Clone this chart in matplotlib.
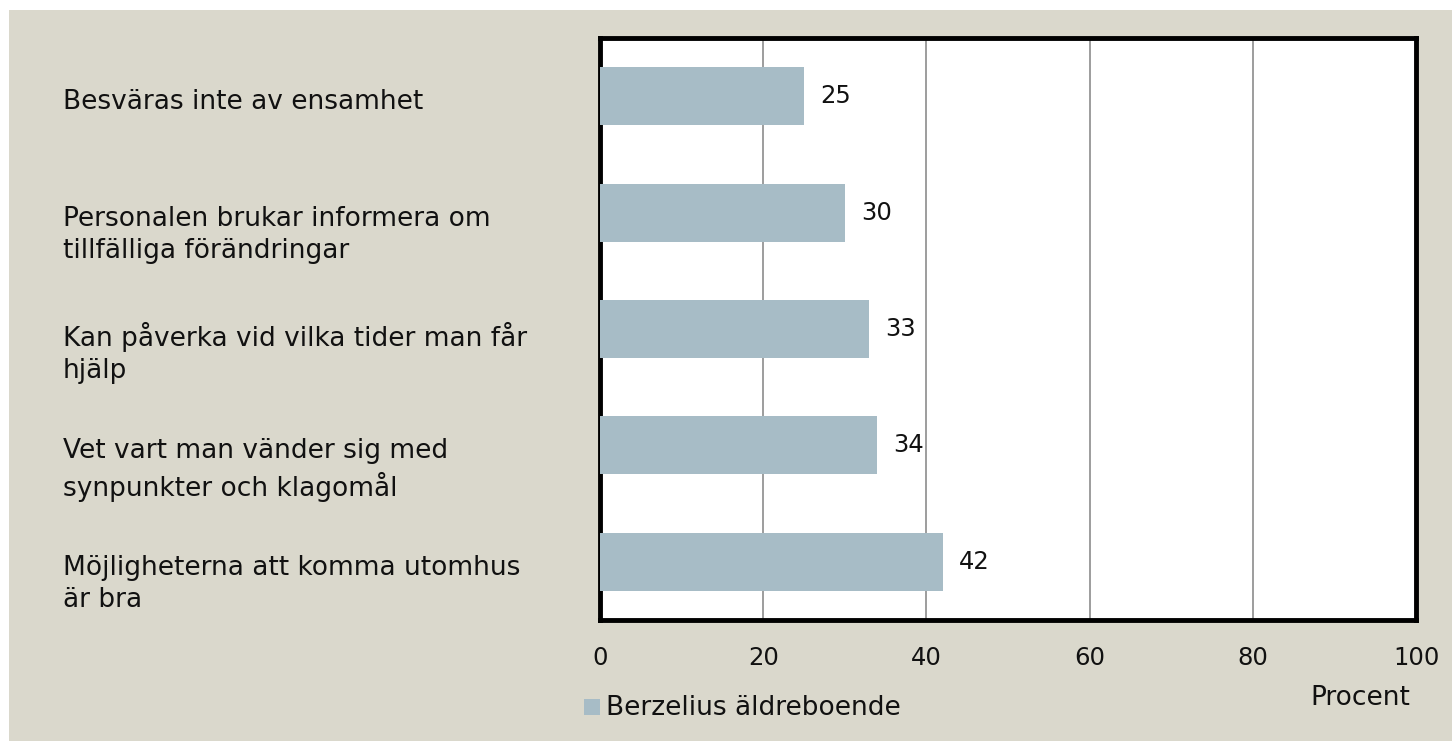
import matplotlib
matplotlib.use("Agg")
import matplotlib.pyplot as plt
from matplotlib.patches import Rectangle
import matplotlib.transforms as mtransforms

categories = [
    "Besväras inte av ensamhet",
    "Personalen brukar informera om\ntillfälliga förändringar",
    "Kan påverka vid vilka tider man får\nhjälp",
    "Vet vart man vänder sig med\nsynpunkter och klagomål",
    "Möjligheterna att komma utomhus\när bra",
]
values = [25, 30, 33, 34, 42]
xticks = [0, 20, 40, 60, 80, 100]
series_name = "Berzelius äldreboende"
xlabel = "Procent"

BG = "#DAD8CC"
BAR = "#A7BCC6"
FONT = ["DejaVu Sans"]
FS = 19
FS_TICK = 17.5

plt.rcParams["font.family"] = FONT

W, H = 1452, 741
fig = plt.figure(figsize=(W / 100, H / 100), dpi=100)
fig.patch.set_facecolor("white")
fig.patches.append(Rectangle((9 / W, 0), 1 - 9 / W, 1 - 10 / H, transform=fig.transFigure,
                             facecolor=BG, edgecolor="none", zorder=-10))

ax = fig.add_axes([600 / W, 1 - 620 / H, 816 / W, 582 / H])
ax.set_facecolor("white")
ypos = list(range(len(categories)))
ax.barh(ypos, values, height=0.5, color=BAR, zorder=3)
ax.set_xlim(0, 100)
ax.set_ylim(len(categories) - 0.5, -0.5)
ax.set_xticks(xticks)
ax.set_xticklabels([str(t) for t in xticks], fontsize=FS_TICK, color="#111111")
ax.tick_params(axis="x", length=0, pad=19)
ax.set_yticks([])
ax.grid(axis="x", color="#8c8c8c", linewidth=1.2, zorder=1)
for s in ax.spines.values():
    s.set_linewidth(3.5)
    s.set_color("#000000")

for y, v in zip(ypos, values):
    ax.annotate(str(v), (v, y), xytext=(11.5, 0), textcoords="offset points",
                va="center", ha="left", fontsize=FS_TICK, color="#111111")

trans = mtransforms.blended_transform_factory(fig.transFigure, ax.transData)
for y, c in zip(ypos, categories):
    ax.text(63 / W, y - 0.06, c, transform=trans, ha="left", va="top",
            fontsize=FS, color="#111111", linespacing=1.3)

fig.text(1410 / W, 1 - 698 / H, xlabel, ha="right", va="center", fontsize=FS, color="#111111")
fig.patches.append(Rectangle((584 / W, 1 - 715 / H), 16 / W, 16 / H, transform=fig.transFigure,
                             facecolor=BAR, edgecolor="none"))
fig.text(606 / W, 1 - 708 / H, series_name, ha="left", va="center", fontsize=FS, color="#111111")

fig.savefig("out.png", dpi=100, facecolor=fig.get_facecolor())
